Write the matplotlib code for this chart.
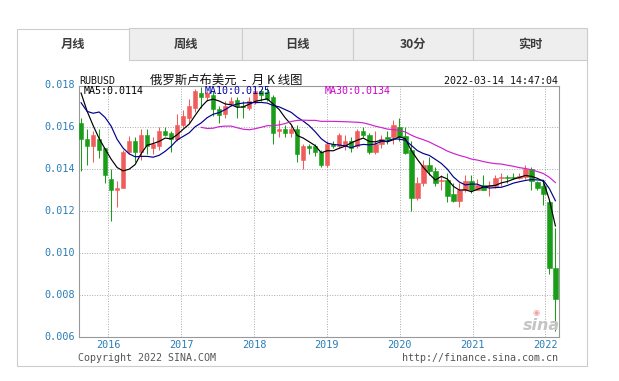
import matplotlib
matplotlib.use("Agg")
import matplotlib.pyplot as plt
import matplotlib.patches as mpatches
import numpy as np
import pandas as pd

# 月K线 RUBUSD, 2015-08 .. 2022-03
opens = [.0162, .0154, .0151, .0154, .0150, .0135, .0130, .0131, .0148, .0153,
         .0148, .0156, .0150, .0151, .0158, .0157, .0154, .0161, .0164, .0169,
         .0176, .0174, .0175, .01685, .0166, .0171, .01725, .0170, .0169, .0172,
         .0177, .01765, .0174, .0158, .0159, .0157, .0159, .0144, .0151, .0151,
         .0148, .0142, .0152, .0151, .0151, .0153, .0151, .0158, .0156, .0148,
         .0152, .0155, .0155, .0160, .01555, .0149, .0126, .0133, .0142, .0139,
         .0134, .01345, .0128, .01245, .0130, .0134, .0130, .01325, .0132, .0132,
         .01355, .0136, .0136, .01355, .0136, .0140, .01336, .0132, .0124, .0093]
highs = [.0164, .0159, .0158, .0159, .0150, .0140, .0134, .0149, .01555, .0155,
         .0159, .0159, .0155, .0160, .0160, .0158, .0166, .0168, .0173, .0178,
         .0179, .0177, .0177, .0170, .0172, .0174, .0174, .0172, .0174, .0179,
         .0178, .0179, .0175, .0163, .0161, .0161, .0161, .0152, .0152, .0152,
         .0149, .0153, .0153, .0157, .0156, .0155, .0159, .0160, .0157, .0158,
         .0156, .0158, .0163, .0164, .0160, .0153, .0136, .0144, .01455, .0141,
         .0137, .0138, .0133, .0133, .0137, .0137, .0135, .0137, .0134, .0137,
         .0138, .0137, .0138, .0138, .0142, .0141, .0134, .0134, .0125, .0112]
lows = [.0139, .0142, .0143, .0145, .0133, .0115, .0122, .0131, .0147, .0143,
        .0144, .0147, .0147, .0149, .01555, .0148, .0153, .0160, .0162, .0167,
        .0169, .0172, .0165, .0162, .0164, .0170, .0164, .0164, .0168, .0171,
        .0172, .0172, .0152, .0155, .0155, .0155, .0143, .0140, .0147, .0146,
        .0141, .0141, .0150, .0150, .0149, .0148, .0150, .0155, .0147, .0147,
        .0150, .0152, .0152, .0153, .0147, .0120, .0125, .0132, .0137, .0132,
        .0130, .0124, .0124, .0122, .0129, .01285, .0130, .0130, .0127, .0131,
        .0132, .0133, .0135, .0135, .0135, .0130, .0130, .0123, .0090, .0063]
closes = [.0154, .0151, .0156, .0149, .0137, .0130, .0131, .0148, .0153, .0148,
          .0156, .0151, .0152, .0158, .0156, .0154, .0161, .0165, .0170, .0177,
          .0174, .0176, .01685, .01656, .0170, .0172, .0170, .01695, .0172, .01768,
          .0175, .0173, .0157, .0159, .0157, .0159, .0147, .0151, .0150, .0148,
          .0142, .0152, .01508, .0156, .0153, .0150, .0158, .0156, .0148, .0152,
          .0154, .0154, .0161, .0155, .01475, .0126, .0133, .0142, .0139, .01333,
          .01345, .0127, .01245, .0130, .0134, .0130, .01325, .0130, .01325, .01355,
          .0136, .01357, .01355, .01368, .0140, .0134, .0131, .0128, .0093, .0078]
# 图前的收盘价 (2014-11 .. 2015-07), 只用于均线
lead_closes = [.0192, .0165, .0143, .0163, .0171, .0194, .0190, .0180, .0162]

years = ["2016", "2017", "2018", "2019", "2020", "2021", "2022"]
yticks = [0.006, 0.008, 0.010, 0.012, 0.014, 0.016, 0.018]
ma_labels = ["MA5:0.0114", "MA10:0.0125", "MA30:0.0134"]
tabs = ["月线", "周线", "日线", "30分", "实时"]

UP = "#f05c5c"
DOWN = "#1a9e1a"
BLUE = "#2a7db5"
MONO = "DejaVu Sans Mono"
CJK = ["Noto Sans CJK SC", "DejaVu Sans"]

W, H = 619, 381
fig = plt.figure(figsize=(W / 100, H / 100), dpi=100)
fig.patch.set_facecolor("white")

def fx(px):
    return px / W

def fy(py):
    return 1 - py / H

# ---- 外框和选项卡 ----
edge = "#cccccc"
fig.add_artist(mpatches.Rectangle((fx(17), fy(366)), fx(570), (366 - 28.5) / H,
                                  transform=fig.transFigure, fill=False,
                                  edgecolor=edge, lw=0.8))
tab_x = [17, 129, 242, 353, 473, 587]
for k, name in enumerate(tabs):
    x0, x1 = tab_x[k], tab_x[k + 1]
    if k > 0:
        fig.add_artist(mpatches.Rectangle((fx(x0), fy(59.5)), fx(x1 - x0), 31 / H,
                                          transform=fig.transFigure,
                                          facecolor="#eeeeee", edgecolor=edge, lw=0.8))
    fig.text(fx((x0 + x1) / 2), fy(44.5), name, family=CJK, fontsize=8.8,
             fontweight="bold", color="#3c3c3c", ha="center", va="center")

# ---- K线图 ----
ax = fig.add_axes([fx(79), fy(337), fx(480), 251.5 / H])
n = len(closes)
idx = np.arange(n)
o = np.array(opens)
c = np.array(closes)
colors = [UP if cc >= oo else DOWN for oo, cc in zip(o, c)]

ax.vlines(idx, lows, highs, colors=colors, lw=0.75, zorder=2)
ax.bar(idx, np.maximum(np.abs(c - o), 0.00003), bottom=np.minimum(o, c), width=0.74,
       color=colors, edgecolor=colors, lw=0.4, zorder=3)

allc = pd.Series(lead_closes + closes)
off = len(lead_closes)
for win, col in [(5, "#000000"), (10, "#00008b"), (30, "#cc22cc")]:
    ma = allc.rolling(win).mean().iloc[off:].to_numpy()
    ax.plot(idx, ma, color=col, lw=0.85, zorder=4)

ax.set_xlim(-0.35, 79.6)
ax.set_ylim(0.006, 0.01796)

year_pos = [4.55 + 12.13 * k for k in range(len(years))]
grid_kw = dict(color="#aaaaaa", lw=0.7, linestyle=(0, (1, 1.6)), zorder=1)
for v in yticks[1:-1]:
    ax.axhline(v, **grid_kw)
for p in year_pos:
    ax.axvline(p, **grid_kw)

ax.set_yticks([])
for v in yticks:
    ax.text(-0.009, v, f"{v:.3f}", transform=ax.get_yaxis_transform(), ha="right",
            va="center", family=MONO, fontsize=7.3, color=BLUE, clip_on=False)
ax.set_xticks(year_pos)
ax.set_xticklabels(years, family=MONO, fontsize=7.3, color=BLUE)
ax.tick_params(axis="x", length=0, pad=2.5)
for s in ax.spines.values():
    s.set_color("#999999")
    s.set_linewidth(0.8)

ma_cols = ["#000000", "#0000aa", "#cc00cc"]
for lab, col, px in zip(ma_labels, ma_cols, [83.5, 204.5, 324.5]):
    ax.text((px - 79) / 480, 0.977, lab, transform=ax.transAxes, family=MONO,
            fontsize=7.2, color=col, ha="left", va="center", zorder=6)

# 水印
fig.text(fx(541), fy(325), "sina", fontsize=11.5, fontweight="bold", style="italic",
         color="#c4c4c4", ha="center", va="center")
fig.text(fx(536), fy(312), "◉", fontsize=6, color="#f0a0a0", ha="center", va="center")

# ---- 标题和版权 ----
fig.text(fx(79), fy(80.5), "RUBUSD", family=MONO, fontsize=7.2, color="#111111",
         ha="left", va="center")
fig.text(fx(150), fy(80), "俄罗斯卢布美元  -  月 K 线图", family=CJK, fontsize=8.9,
         color="#111111", ha="left", va="center")
fig.text(fx(558), fy(80.5), "2022-03-14 14:47:04", family=MONO, fontsize=7.2,
         color="#111111", ha="right", va="center")
fig.text(fx(78), fy(358), "Copyright 2022 SINA.COM", family=MONO, fontsize=7.2,
         color="#555555", ha="left", va="center")
fig.text(fx(558), fy(358), "http://finance.sina.com.cn", family=MONO, fontsize=7.2,
         color="#555555", ha="right", va="center")

fig.savefig("out.png", dpi=100, facecolor="white")
